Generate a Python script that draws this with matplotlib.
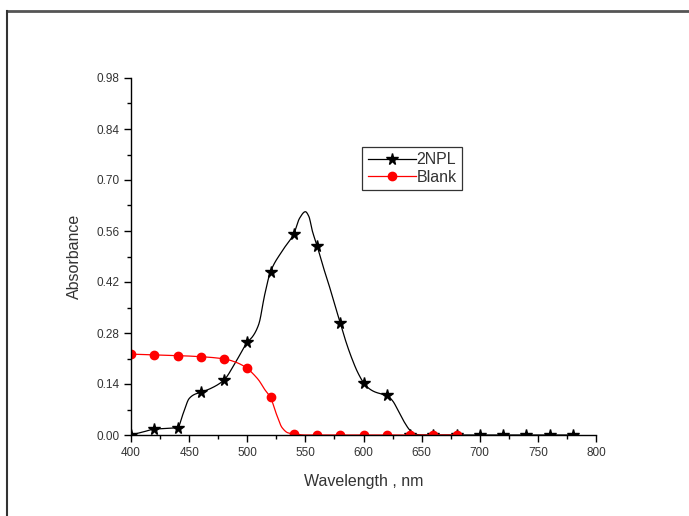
import numpy as np
import matplotlib
matplotlib.use("Agg")
import matplotlib.pyplot as plt
from matplotlib.lines import Line2D
from matplotlib.ticker import MultipleLocator, FormatStrFormatter

plt.rcParams['font.family'] = ['Liberation Sans', 'DejaVu Sans']

# 2NPL: marker points
npl_x = [400, 420, 440, 460, 480, 500, 520, 540, 560, 580, 600, 620, 640, 660, 680, 700, 720, 740, 760, 780]
npl_y = [0.0, 0.016, 0.02, 0.117, 0.151, 0.254, 0.448, 0.552, 0.52, 0.308, 0.144, 0.109, 0.0, 0.0, 0.0, 0.0, 0.0, 0.0, 0.0, 0.0]
# 2NPL: traced curve
npl_cx = [400, 410, 420, 430, 440, 445, 450, 455, 460, 470, 480, 490, 500, 505, 510, 515, 520, 530, 540, 545,
          550, 553, 556, 560, 565, 570, 575, 580, 585, 590, 595, 600, 605, 610, 615, 620, 625, 630, 635, 640, 645, 650, 780]
npl_cy = [0.0, 0.008, 0.016, 0.018, 0.02, 0.06, 0.1, 0.112, 0.117, 0.13, 0.151, 0.2, 0.254, 0.272, 0.305, 0.385, 0.448, 0.505, 0.552, 0.595,
          0.613, 0.6, 0.56, 0.52, 0.465, 0.415, 0.36, 0.308, 0.255, 0.21, 0.172, 0.144, 0.127, 0.118, 0.113, 0.109, 0.094, 0.066, 0.036, 0.013, 0.002, 0.0, 0.0]

# Blank: marker points
blank_x = [400, 420, 440, 460, 480, 500, 520, 540, 560, 580, 600, 620, 640, 660, 680]
blank_y = [0.222, 0.220, 0.218, 0.215, 0.209, 0.183, 0.103, 0.004, 0.0, 0.0, 0.0, 0.0, 0.0, 0.0, 0.0]
# Blank: traced curve
blank_cx = [400, 420, 440, 460, 480, 490, 500, 505, 510, 515, 520, 525, 530, 535, 540, 550, 680]
blank_cy = [0.222, 0.220, 0.218, 0.215, 0.209, 0.2, 0.183, 0.168, 0.15, 0.125, 0.103, 0.058, 0.02, 0.006, 0.003, 0.0, 0.0]


def smooth_path(x, y, n=12):
    """Render a traced polyline as a shape-preserving cubic (PCHIP) path."""
    x = np.asarray(x, float)
    y = np.asarray(y, float)
    h = np.diff(x)
    delta = np.diff(y) / h
    d = np.zeros_like(y)
    for k in range(1, len(x) - 1):
        if delta[k - 1] * delta[k] > 0:
            w1 = 2 * h[k] + h[k - 1]
            w2 = h[k] + 2 * h[k - 1]
            d[k] = (w1 + w2) / (w1 / delta[k - 1] + w2 / delta[k])
    d[0] = delta[0]
    d[-1] = delta[-1]
    xs, ys = [], []
    for k in range(len(x) - 1):
        t = np.linspace(0, 1, n, endpoint=False)
        h00 = 2 * t**3 - 3 * t**2 + 1
        h10 = t**3 - 2 * t**2 + t
        h01 = -2 * t**3 + 3 * t**2
        h11 = t**3 - t**2
        xs.append(x[k] + t * h[k])
        ys.append(h00 * y[k] + h10 * h[k] * d[k] + h01 * y[k + 1] + h11 * h[k] * d[k + 1])
    xs.append([x[-1]])
    ys.append([y[-1]])
    return np.concatenate(xs), np.concatenate(ys)


W, H = 689, 516
fig = plt.figure(figsize=(W / 100, H / 100), dpi=100)
ax = fig.add_axes([131 / W, (H - 435) / H, 465 / W, 357 / H])

sx, sy = smooth_path(npl_cx, npl_cy)
ax.plot(sx, sy, color='black', lw=0.9)
ax.plot(npl_x, npl_y, ls='none', marker='*', ms=8.5, color='black')
sx, sy = smooth_path(blank_cx, blank_cy)
ax.plot(sx, sy, color='red', lw=0.9)
ax.plot(blank_x, blank_y, ls='none', marker='o', ms=6, color='red')

ax.set_xlim(400, 800)
ax.set_ylim(0, 0.98)
ax.xaxis.set_major_locator(MultipleLocator(50))
ax.xaxis.set_minor_locator(MultipleLocator(25))
ax.yaxis.set_major_locator(MultipleLocator(0.14))
ax.yaxis.set_minor_locator(MultipleLocator(0.07))
ax.yaxis.set_major_formatter(FormatStrFormatter('%.2f'))
for s in ['top', 'right']:
    ax.spines[s].set_visible(False)
for s in ['left', 'bottom']:
    ax.spines[s].set_linewidth(1.0)
ax.tick_params(which='major', direction='out', length=5, width=1, labelsize=8.5, colors='black', labelcolor='#333333')
ax.tick_params(which='minor', direction='out', length=3, width=1)

ax.set_xlabel('Wavelength , nm', fontsize=11.5, color='#333333', labelpad=11)
ax.set_ylabel('Absorbance', fontsize=11.5, color='#333333', labelpad=10)

handles = [Line2D([], [], color='black', lw=0.9, marker='*', ms=8.5),
           Line2D([], [], color='red', lw=0.9, marker='o', ms=6)]
leg = ax.legend(handles, ['2NPL', 'Blank'], loc='upper left', bbox_to_anchor=(0.497, 0.807),
                fontsize=11.5, frameon=True, fancybox=False, edgecolor='black', handlelength=3.0,
                handletextpad=0.05, borderpad=0.35, labelspacing=0.15, borderaxespad=0)
leg.get_frame().set_linewidth(0.9)
for t in leg.get_texts():
    t.set_color('#333333')

# outer frame lines
fig.add_artist(Line2D([7 / W, 1], [1 - 11 / H, 1 - 11 / H], color='#555555', lw=2, transform=fig.transFigure))
fig.add_artist(Line2D([7 / W, 7 / W], [0, 1 - 11 / H], color='#333333', lw=1.5, transform=fig.transFigure))

fig.savefig('out.png', dpi=100)
